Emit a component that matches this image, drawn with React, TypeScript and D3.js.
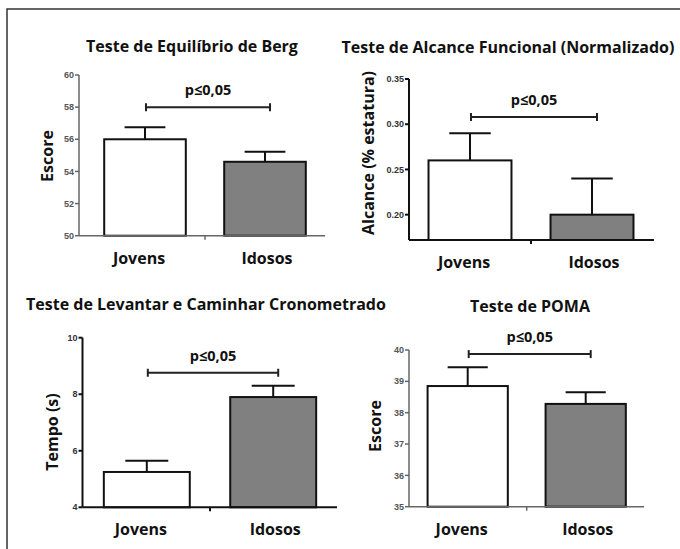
import * as d3 from 'd3'
import { useEffect, useRef } from 'react'

const width = 680, height = 549

const categories = ['Jovens', 'Idosos']
const fills = ['#ffffff', '#808080']
const sigLabel = 'p≤0,05'

// Berg balance
const bergMeans = [56.0, 54.6]
const bergErrors = [0.75, 0.63]
const bergTicks = [50, 52, 54, 56, 58, 60]
const bergSig = 58

// functional reach (normalised)
const alcanceMeans = [0.26, 0.2]
const alcanceErrors = [0.03, 0.04]
const alcanceTicks = [0.2, 0.25, 0.3, 0.35]
const alcanceSig = 0.308

// timed up and go
const tugMeans = [5.25, 7.9]
const tugErrors = [0.4, 0.4]
const tugTicks = [4, 6, 8, 10]
const tugSig = 8.76

// POMA
const pomaMeans = [38.85, 38.28]
const pomaErrors = [0.6, 0.37]
const pomaTicks = [35, 36, 37, 38, 39, 40]
const pomaSig = 39.87

const titleFont = '"Open Sans", sans-serif'
const tickFont = '"Liberation Sans", Arial, sans-serif'

const panels = [
  {
    title: 'Teste de Equilíbrio de Berg', titleX: 192, titleY: 52,
    ylabel: 'Escore', ylabelX: 47, ylabelY: 156,
    means: bergMeans, errors: bergErrors, ticks: bergTicks, sig: bergSig,
    domain: [50, 60], yRange: [235.7, 75], axisX: 79, band: [85, 325], xEnd: 325,
    axisColor: '#666', axisWidth: 1.5, tickColor: '#555', fmt: d3.format('d'),
  },
  {
    title: 'Teste de Alcance Funcional (Normalizado)', titleX: 508, titleY: 53,
    ylabel: 'Alcance (% estatura)', ylabelX: 368, ylabelY: 153,
    means: alcanceMeans, errors: alcanceErrors, ticks: alcanceTicks, sig: alcanceSig,
    domain: [0.172, 0.35], yRange: [240, 79], axisX: 409, band: [409, 653], xEnd: 654,
    axisColor: '#111', axisWidth: 2, tickColor: '#333', fmt: d3.format('.2f'),
  },
  {
    title: 'Teste de Levantar e Caminhar Cronometrado', titleX: 206, titleY: 310,
    ylabel: 'Tempo (s)', ylabelX: 52, ylabelY: 432,
    means: tugMeans, errors: tugErrors, ticks: tugTicks, sig: tugSig,
    domain: [4, 10], yRange: [507.3, 337.7], axisX: 82.5, band: [83.6, 336.4], xEnd: 337,
    axisColor: '#111', axisWidth: 2, tickColor: '#333', fmt: d3.format('d'),
  },
  {
    title: 'Teste de POMA', titleX: 530, titleY: 312,
    ylabel: 'Escore', ylabelX: 375, ylabelY: 426,
    means: pomaMeans, errors: pomaErrors, ticks: pomaTicks, sig: pomaSig,
    domain: [35, 40], yRange: [506.7, 350], axisX: 409, band: [408.7, 644.7], xEnd: 644,
    axisColor: '#666', axisWidth: 1.5, tickColor: '#555', fmt: d3.format('d'),
  },
]

const drawPanel = (svg, p) => {
  const y = d3.scaleLinear().domain(p.domain).range(p.yRange)
  const x = d3.scaleBand().domain(categories).range(p.band)
    .paddingInner(0.32).paddingOuter(0.16)
  const bw = x.bandwidth()
  const cx = (c) => x(c) + bw / 2
  const base = p.yRange[0]
  const g = svg.append('g')

  g.append('text')
    .attr('x', p.titleX).attr('y', p.titleY)
    .attr('text-anchor', 'middle')
    .attr('font-family', titleFont).attr('font-weight', 700).attr('font-size', 16)
    .attr('fill', '#111')
    .text(p.title)

  g.append('text')
    .attr('transform', `translate(${p.ylabelX},${p.ylabelY}) rotate(-90)`)
    .attr('dy', '0.35em')
    .attr('text-anchor', 'middle')
    .attr('font-family', titleFont).attr('font-weight', 700).attr('font-size', 16)
    .attr('fill', '#111')
    .text(p.ylabel)

  // bars
  g.append('g')
    .selectAll('rect')
    .data(p.means)
    .join('rect')
    .attr('x', (d, i) => x(categories[i]))
    .attr('y', d => y(d))
    .attr('width', bw)
    .attr('height', d => base - y(d))
    .attr('fill', (d, i) => fills[i])
    .attr('stroke', '#111')
    .attr('stroke-width', 2)

  // error bars (upper only)
  const err = g.append('g').attr('stroke', '#111').attr('stroke-width', 2)
  p.means.forEach((m, i) => {
    const c = cx(categories[i])
    err.append('line')
      .attr('x1', c).attr('x2', c)
      .attr('y1', y(m)).attr('y2', y(m + p.errors[i]))
    err.append('line')
      .attr('x1', c - bw / 4).attr('x2', c + bw / 4)
      .attr('y1', y(m + p.errors[i])).attr('y2', y(m + p.errors[i]))
  })

  // axes
  const ax = g.append('g').attr('stroke', p.axisColor).attr('stroke-width', p.axisWidth)
  ax.append('line')
    .attr('x1', p.axisX).attr('x2', p.axisX)
    .attr('y1', y(p.domain[1])).attr('y2', base)
  ax.append('line')
    .attr('x1', p.axisX).attr('x2', p.xEnd)
    .attr('y1', base).attr('y2', base)
  const mid = (cx(categories[0]) + cx(categories[1])) / 2
  ax.append('line')
    .attr('x1', mid).attr('x2', mid)
    .attr('y1', base).attr('y2', base + 4)
  ax.selectAll('line.tick')
    .data(p.ticks)
    .join('line')
    .attr('class', 'tick')
    .attr('x1', p.axisX - 4).attr('x2', p.axisX)
    .attr('y1', d => y(d)).attr('y2', d => y(d))

  g.append('g')
    .selectAll('text')
    .data(p.ticks)
    .join('text')
    .attr('x', p.axisX - 5)
    .attr('y', d => y(d))
    .attr('dy', '0.35em')
    .attr('text-anchor', 'end')
    .attr('font-family', tickFont).attr('font-weight', 700).attr('font-size', 9)
    .attr('fill', p.tickColor)
    .text(d => p.fmt(d))

  // category labels
  g.append('g')
    .selectAll('text')
    .data(categories)
    .join('text')
    .attr('x', (d, i) => cx(d) + (i ? 2 : -6))
    .attr('y', base + 28)
    .attr('text-anchor', 'middle')
    .attr('font-family', titleFont).attr('font-weight', 700).attr('font-size', 16)
    .attr('fill', '#111')
    .text(d => d)

  // significance bracket
  const sx0 = cx(categories[0]) + 1, sx1 = cx(categories[1]) + 5, sy = y(p.sig)
  const br = g.append('g').attr('stroke', '#222').attr('stroke-width', 2)
  br.append('line').attr('x1', sx0).attr('x2', sx1).attr('y1', sy).attr('y2', sy)
  br.append('line').attr('x1', sx0).attr('x2', sx0).attr('y1', sy - 4).attr('y2', sy + 4)
  br.append('line').attr('x1', sx1).attr('x2', sx1).attr('y1', sy - 4).attr('y2', sy + 4)
  g.append('text')
    .attr('x', (sx0 + sx1) / 2).attr('y', sy - 12)
    .attr('text-anchor', 'middle')
    .attr('font-family', titleFont).attr('font-weight', 700).attr('font-size', 14.5)
    .attr('fill', '#111')
    .text(sigLabel)
}

const chart = (node) => {
  const svg = d3.select(node)
  svg.selectAll('*').remove()
  svg.append('rect').attr('width', width).attr('height', height).attr('fill', '#fff')
  // frame (only the top and left edges fall inside the picture)
  svg.append('rect')
    .attr('x', 7).attr('y', 9).attr('width', 700).attr('height', 600)
    .attr('fill', 'none').attr('stroke', '#333').attr('stroke-width', 1.5)
  panels.forEach(p => drawPanel(svg, p))
}

export default function App() {
  const ref = useRef<SVGSVGElement>(null)
  useEffect(() => {
    if (ref.current) chart(ref.current)
  }, [])
  return (
    <svg ref={ref} width={width} height={height}
      style={{ position: 'absolute', left: 0, top: 0, display: 'block' }} />
  )
}
